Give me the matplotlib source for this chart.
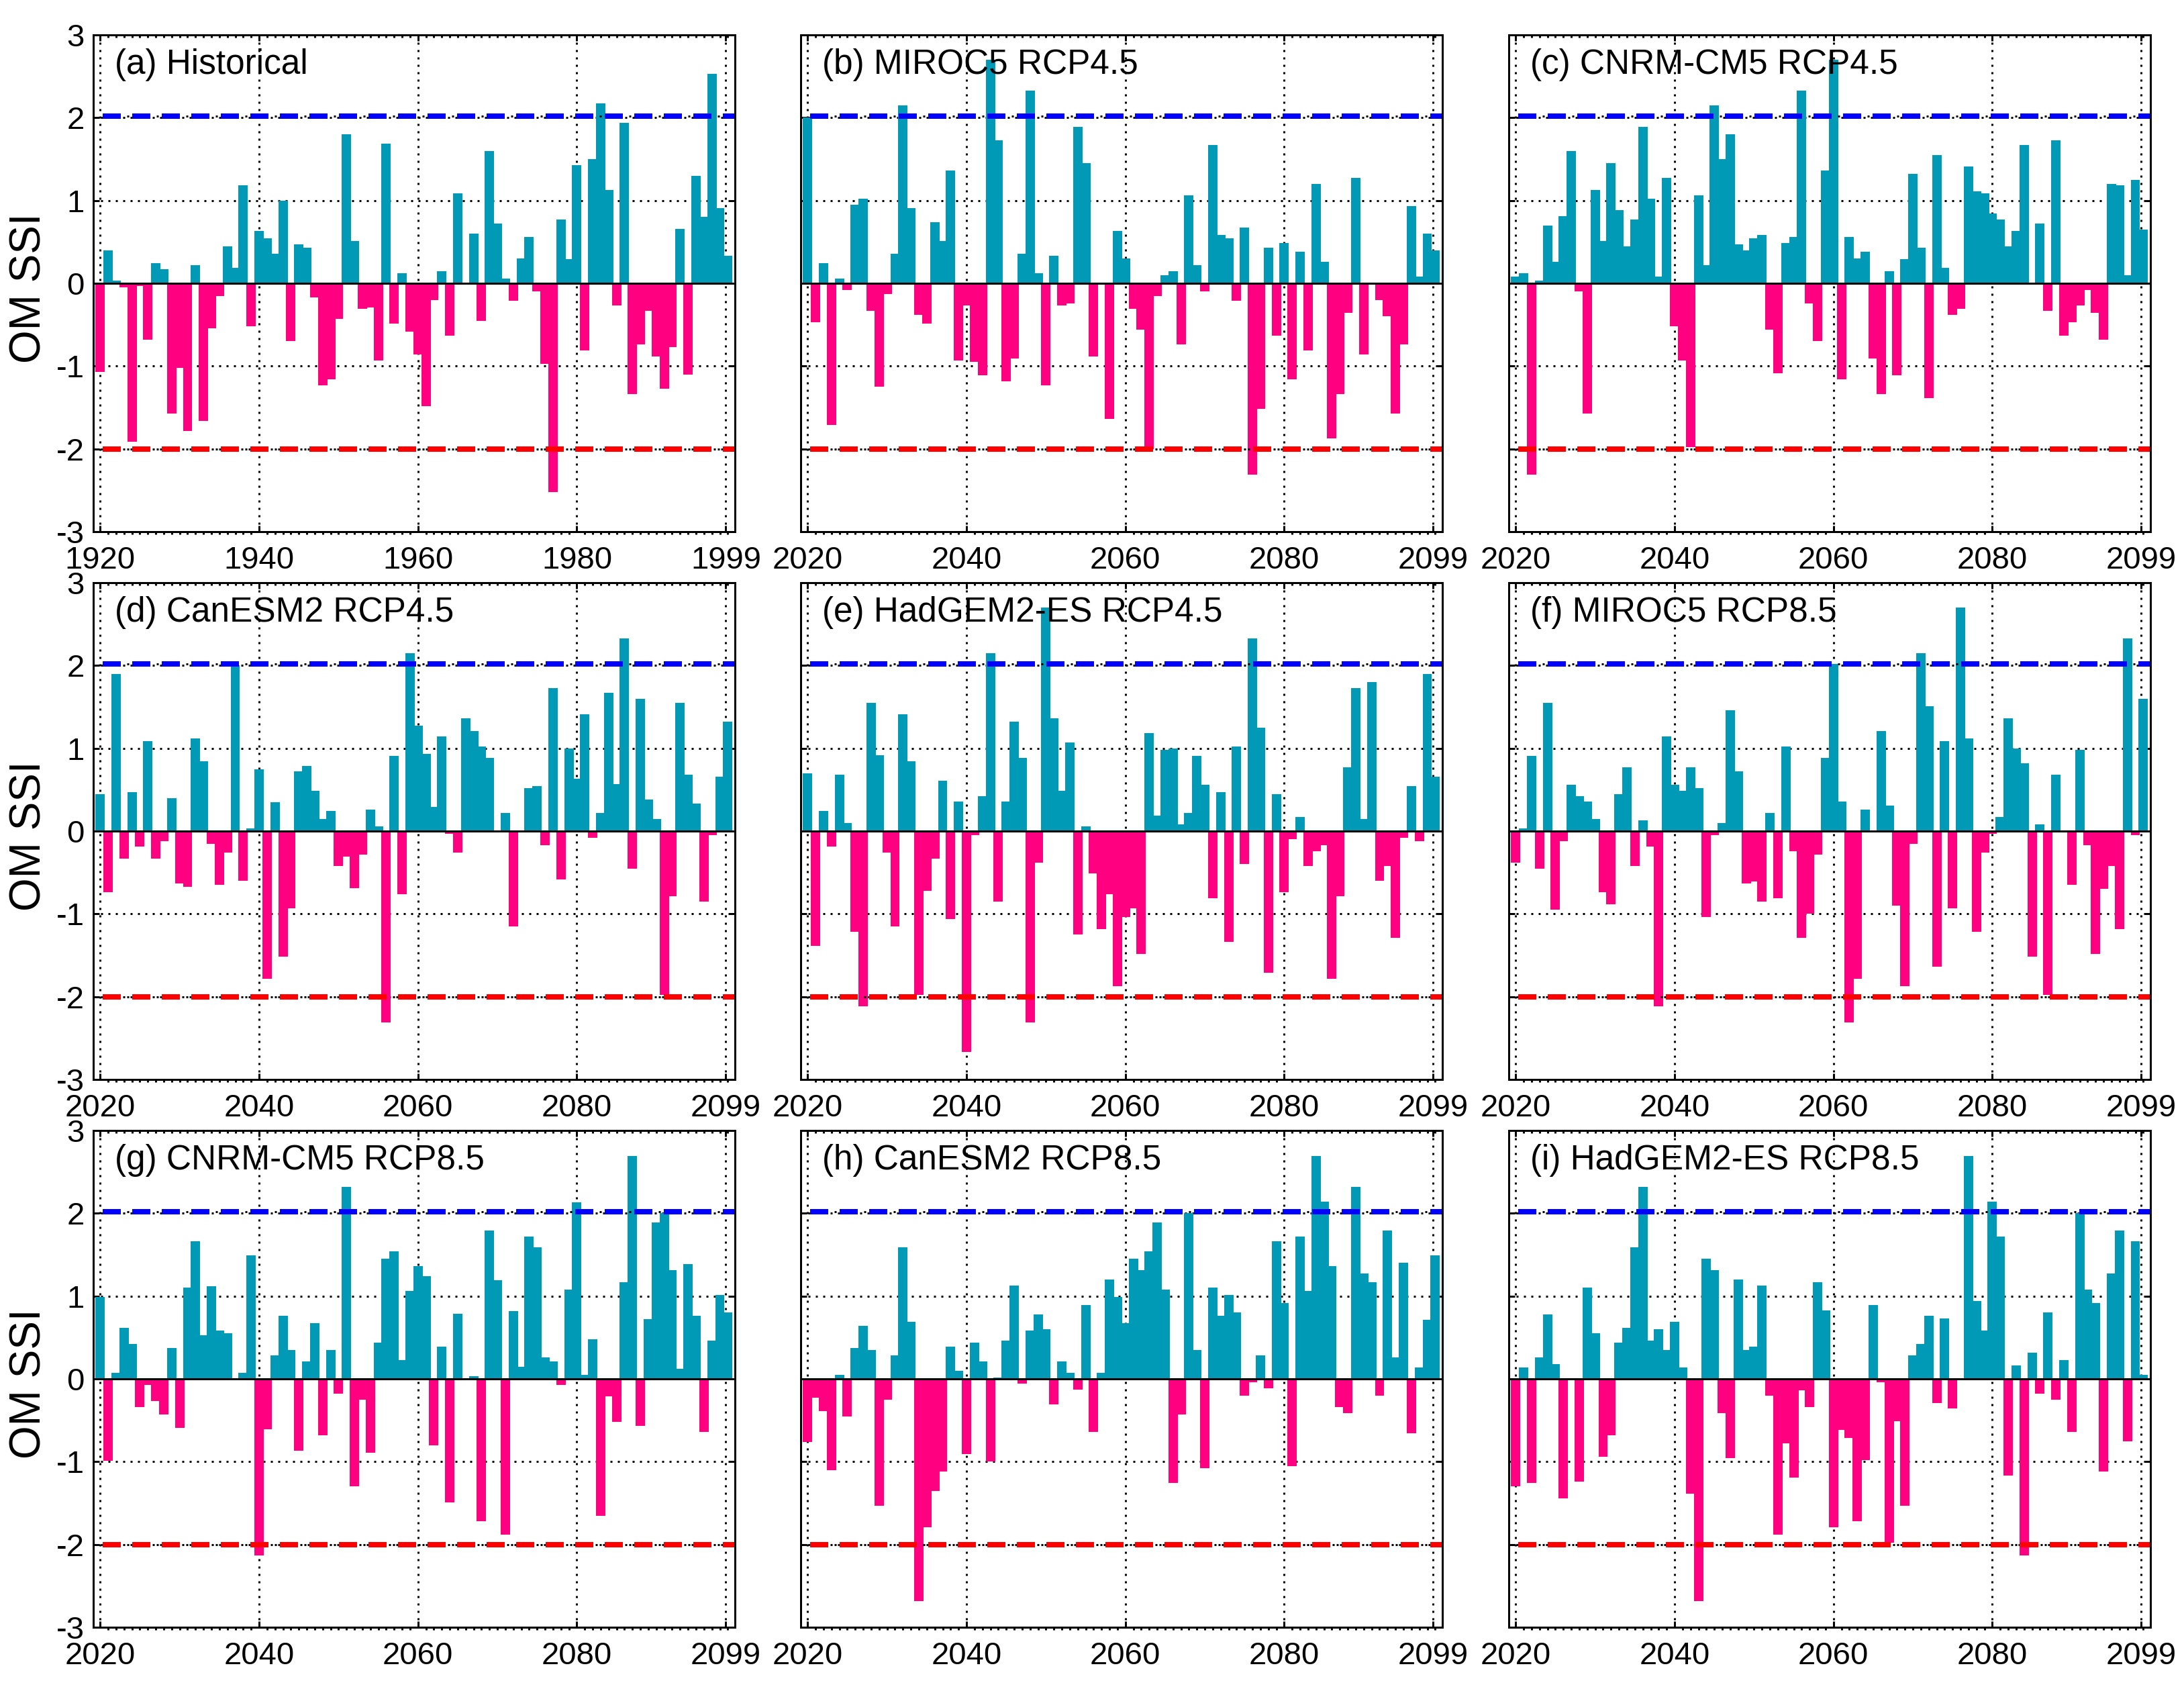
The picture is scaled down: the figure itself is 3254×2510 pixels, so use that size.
"""OM SSI bar panels, historical and RCP projections."""

import matplotlib

matplotlib.use("Agg")
import matplotlib.pyplot as plt
from matplotlib.ticker import MultipleLocator, NullFormatter

plt.rcParams["font.family"] = ["Liberation Sans", "DejaVu Sans"]

years_hist = list(range(1920, 2000))
years_proj = list(range(2020, 2100))

# Values, one per year
ssi_a = [-1.07, 0.40, 0.03, -0.05, -1.91, -0.03, -0.68, 0.24, 0.17, -1.57,
         -1.02, -1.78, 0.22, -1.66, -0.54, -0.15, 0.45, 0.19, 1.18, -0.52,
         0.63, 0.54, 0.36, 1.00, -0.70, 0.47, 0.43, -0.17, -1.23, -1.16,
         -0.43, 1.80, 0.51, -0.31, -0.29, -0.93, 1.69, -0.49, 0.12, -0.58,
         -0.86, -1.48, -0.20, 0.15, -0.63, 1.09, -0.01, 0.60, -0.45, 1.60,
         0.72, 0.06, -0.21, 0.30, 0.56, -0.10, -0.97, -2.52, 0.77, 0.29,
         1.43, -0.81, 1.50, 2.17, 1.13, -0.27, 1.94, -1.34, -0.74, -0.33,
         -0.88, -1.27, -0.77, 0.66, -1.10, 1.30, 0.80, 2.53, 0.91, 0.33]
ssi_b = [2.00, -0.47, 0.24, -1.71, 0.06, -0.08, 0.95, 1.02, -0.33, -1.25,
         -0.13, 0.36, 2.15, 0.91, -0.38, -0.49, 0.74, 0.51, 1.36, -0.93,
         -0.27, -0.95, -1.11, 2.70, 1.73, -1.18, -0.91, 0.36, 2.33, 0.12,
         -1.23, 0.33, -0.27, -0.24, 1.89, 1.45, -0.88, 0.00, -1.64, 0.63,
         0.30, -0.31, -0.56, -2.00, -0.15, 0.10, 0.15, -0.74, 1.06, 0.22,
         -0.10, 1.67, 0.58, 0.54, -0.21, 0.67, -2.31, -1.52, 0.43, -0.63,
         0.49, -1.16, 0.38, -0.81, 1.20, 0.26, -1.87, -1.34, -0.36, 1.27,
         -0.86, 0.00, -0.20, -0.40, -1.57, -0.74, 0.93, 0.08, 0.60, 0.40]
ssi_c = [0.08, 0.12, -2.31, 0.03, 0.70, 0.26, 0.81, 1.60, -0.10, -1.57,
         1.13, 0.51, 1.45, 0.88, 0.45, 0.77, 1.89, 1.02, 0.08, 1.27,
         -0.52, -0.93, -1.98, 1.06, 0.22, 2.15, 1.50, 1.80, 0.47, 0.40,
         0.54, 0.58, -0.56, -1.09, 0.49, 0.56, 2.33, -0.24, -0.70, 1.36,
         2.70, -1.16, 0.56, 0.30, 0.38, -0.91, -1.34, 0.15, -1.11, 0.29,
         1.32, 0.43, -1.39, 1.55, 0.19, -0.38, -0.31, 1.41, 1.11, 1.09,
         0.84, 0.77, 0.45, 0.63, 1.67, -0.01, 0.72, -0.33, 1.73, -0.63,
         -0.47, -0.27, -0.08, -0.36, -0.68, 1.20, 1.18, 0.10, 1.25, 0.65]
ssi_d = [0.45, -0.74, 1.90, -0.33, 0.47, -0.19, 1.09, -0.33, -0.12, 0.40,
         -0.63, -0.67, 1.12, 0.84, -0.15, -0.65, -0.26, 2.00, -0.60, 0.03,
         0.75, -1.78, 0.35, -1.52, -0.93, 0.72, 0.79, 0.49, 0.15, 0.24,
         -0.42, -0.31, -0.69, -0.28, 0.26, 0.06, -2.31, 0.91, -0.76, 2.15,
         1.27, 0.93, 0.29, 1.14, -0.03, -0.26, 1.36, 1.21, 1.02, 0.88,
         -0.02, 0.22, -1.15, 0.00, 0.52, 0.54, -0.17, 1.73, -0.58, 1.00,
         0.63, 1.41, -0.08, 0.22, 1.67, 0.57, 2.33, -0.45, 1.60, 0.38,
         0.15, -1.98, -0.79, 1.55, 0.68, 0.33, -0.85, -0.05, 0.66, 1.32]
ssi_e = [0.70, -1.39, 0.24, -0.19, 0.68, 0.10, -1.22, -2.12, 1.55, 0.92,
         -0.26, -1.15, 1.41, 0.84, -1.98, -0.72, -0.33, 0.61, -1.06, 0.36,
         -2.67, -0.05, 0.42, 2.15, -0.85, 0.36, 1.32, 0.88, -2.31, -0.38,
         2.70, 1.36, 0.49, 1.07, -1.25, 0.06, -0.51, -1.18, -0.76, -1.87,
         -1.04, -0.93, -1.48, 1.18, 0.19, 0.98, 1.00, 0.08, 0.22, 0.91,
         0.56, -0.81, 0.47, -1.34, 1.02, -0.40, 2.33, 1.25, -1.71, 0.45,
         -0.74, -0.10, 0.17, -0.42, -0.24, -0.17, -1.78, -0.79, 0.77, 1.73,
         0.15, 1.80, -0.60, -0.42, -1.29, -0.08, 0.54, -0.12, 1.90, 0.66]
ssi_f = [-0.38, 0.03, 0.91, -0.45, 1.55, -0.95, -0.12, 0.56, 0.42, 0.36,
         0.15, -0.74, -0.88, 0.45, 0.77, -0.42, 0.13, -0.19, -2.12, 1.14,
         0.56, 0.49, 0.77, 0.52, -1.04, -0.05, 0.10, 1.46, 0.72, -0.63,
         -0.61, -0.85, 0.22, -0.81, 1.02, -0.24, -1.29, -1.00, -0.28, 0.88,
         2.02, 0.36, -2.31, -1.78, 0.26, 0.00, 1.21, 0.31, -0.90, -1.87,
         -0.15, 2.15, 1.51, -1.64, 1.09, -0.93, 2.70, 1.12, -1.22, -0.26,
         -0.03, 0.17, 1.36, 1.00, 0.82, -1.52, 0.08, -1.98, 0.68, -0.01,
         -0.65, 0.98, -0.17, -1.48, -0.70, -0.42, -1.18, 2.33, -0.05, 1.60]
ssi_g = [0.99, -0.99, 0.07, 0.62, 0.42, -0.34, -0.07, -0.27, -0.43, 0.37,
         -0.59, 1.10, 1.66, 0.53, 1.12, 0.58, 0.55, 0.00, 0.07, 1.49,
         -2.13, -0.61, 0.28, 0.76, 0.35, -0.87, 0.21, 0.67, -0.68, 0.35,
         -0.18, 2.32, -1.30, -0.25, -0.89, 0.44, 1.45, 1.54, 0.23, 1.06,
         1.36, 1.24, -0.80, 0.39, -1.49, 0.79, -0.02, 0.03, -1.72, 1.79,
         1.19, -1.88, 0.82, 0.15, 1.72, 1.59, 0.26, 0.21, -0.07, 1.08,
         2.13, 0.05, 0.48, -1.65, -0.21, -0.52, 1.17, 2.69, -0.57, 0.72,
         1.89, 2.00, 1.31, 0.12, 1.39, 0.76, -0.64, 0.46, 1.01, 0.80]
ssi_h = [-0.76, -0.23, -0.39, -1.10, 0.05, -0.45, 0.37, 0.64, 0.35, -1.53,
         -0.25, 0.28, 1.59, 0.69, -2.68, -1.79, -1.35, -1.12, 0.39, 0.10,
         -0.91, 0.44, 0.21, -1.00, 0.02, 0.46, 1.13, -0.06, 0.58, 0.78,
         0.60, -0.31, 0.21, 0.07, -0.13, 0.89, -0.64, 0.07, 1.20, 0.99,
         0.67, 1.45, 1.31, 1.54, 1.89, 1.08, -1.26, -0.43, 2.00, 0.35,
         -1.08, 1.10, 0.76, 1.01, 0.80, -0.20, -0.04, 0.28, -0.11, 1.66,
         0.92, -1.05, 1.72, 1.06, 2.69, 2.14, 1.36, -0.34, -0.41, 2.32,
         1.27, 1.17, -0.20, 1.79, 0.26, 1.40, -0.66, 0.14, 0.71, 1.49]
ssi_i = [-1.30, 0.14, -1.26, 0.26, 0.78, 0.18, -1.44, 0.00, -1.24, 1.10,
         0.55, -0.94, -0.68, 0.44, 0.62, 1.59, 2.32, 0.46, 0.60, 0.35,
         0.69, 0.14, -1.39, -2.68, 1.45, 1.31, -0.41, -0.96, 1.20, 0.35,
         0.39, 1.13, -0.20, -1.88, -0.78, -1.19, -0.14, -0.34, 1.17, 0.83,
         -1.79, -0.62, -0.71, -1.72, -0.98, 0.89, -0.04, -1.98, -0.51, -1.53,
         0.28, 0.42, 0.76, -0.29, 0.73, -0.36, -0.02, 2.69, 0.94, 0.58,
         2.14, 1.72, -1.17, 0.16, -2.13, 0.32, -0.18, 0.80, -0.25, 0.23,
         -0.64, 2.00, 1.08, 0.92, -1.12, 1.27, 1.79, -0.75, 1.66, 0.05]

panel_titles = ["(a) Historical", "(b) MIROC5 RCP4.5", "(c) CNRM-CM5 RCP4.5",
                "(d) CanESM2 RCP4.5", "(e) HadGEM2-ES RCP4.5", "(f) MIROC5 RCP8.5",
                "(g) CNRM-CM5 RCP8.5", "(h) CanESM2 RCP8.5", "(i) HadGEM2-ES RCP8.5"]
panel_values = [ssi_a, ssi_b, ssi_c, ssi_d, ssi_e, ssi_f, ssi_g, ssi_h, ssi_i]
wet_threshold = 2.02
dry_threshold = -2.0
y_ticks = [-3, -2, -1, 0, 1, 2, 3]

W, H = 3255, 2510
LEFTS = [139, 1193, 2248]
TOPS = [52, 868, 1684]
AX_W, AX_H = 956, 740
TEAL = "#009AB6"
PINK = "#FF0080"


def px(n):
    # pixels to points at dpi 100
    return n * 0.72


def draw_threshold(ax, start, end, y, color):
    # MATLAB style: fat dashes with thin dots between them
    ax.plot([start, end], [y, y], color=color, lw=px(8), zorder=5,
            dash_capstyle="butt", dashes=(27 / 8, 17 / 8))
    ax.plot([start, end], [y, y], color="black", lw=px(3), zorder=5,
            dash_capstyle="butt", linestyle=(8 / 3, (1, 41 / 3)))


fig = plt.figure(figsize=(W / 100, H / 100), dpi=100, facecolor="white")

for i, (title, values) in enumerate(zip(panel_titles, panel_values)):
    row, col = divmod(i, 3)
    ax = fig.add_axes([LEFTS[col] / W, 1 - (TOPS[row] + AX_H) / H, AX_W / W, AX_H / H])
    first = 1920 if i == 0 else 2020
    years = years_hist if i == 0 else years_proj
    x_off = first - 2020

    colors = [TEAL if v > 0 else PINK for v in values]
    ax.bar(years, values, width=1.18, color=colors, linewidth=0, zorder=2)

    ax.set_xlim(2019.13 + x_off, 2099.9 + x_off)
    ax.set_ylim(-3, 3)

    # last tick sits a little short of the final year in the original
    major = [first, first + 20, first + 40, first + 60, first + 78.75]
    ax.set_xticks(major)
    ax.set_xticklabels([str(first + k) for k in (0, 20, 40, 60, 79)], fontsize=34)
    ax.xaxis.set_minor_locator(MultipleLocator(1))
    ax.set_yticks(y_ticks)
    if col == 0:
        ax.set_yticklabels([str(t) for t in y_ticks], fontsize=34)
    else:
        ax.set_yticklabels([])

    ax.tick_params(axis="both", which="major", direction="in", top=True, right=True,
                   length=px(9), width=px(3), pad=px(21))
    ax.tick_params(axis="x", which="minor", direction="out", top=False,
                   length=px(4), width=px(3))
    ax.tick_params(axis="y", which="major", pad=px(13))

    # teeth on the top edge point inward, unlike the bottom ones
    top = ax.secondary_xaxis("top")
    top.set_xticks([])
    top.xaxis.set_minor_locator(MultipleLocator(1))
    top.xaxis.set_minor_formatter(NullFormatter())
    top.tick_params(axis="x", which="minor", direction="in", length=px(4), width=px(3))
    top.spines["top"].set_visible(False)

    ax.grid(True, which="major", color="black", lw=px(3), linestyle=(0, (1, 8 / 3)))
    ax.set_axisbelow(True)
    for spine in ax.spines.values():
        spine.set_linewidth(px(3))
        spine.set_zorder(6)

    ax.axhline(0, color="black", lw=px(3), zorder=4)
    draw_threshold(ax, first + 0.35, 2099.9 + x_off, wet_threshold, "#0000FF")
    draw_threshold(ax, first + 0.35, 2099.9 + x_off, dry_threshold, "#FF0000")

    ax.text(first + 1.85, 2.64, title, fontsize=37, va="center", ha="left", zorder=7)

    if col == 0:
        fig.text(44 / W, 1 - (TOPS[row] + AX_H / 2 + 7) / H, "OM SSI", rotation=90,
                 fontsize=46, ha="center", va="center")

fig.savefig("out.png", dpi=100, facecolor="white")
plt.close(fig)
